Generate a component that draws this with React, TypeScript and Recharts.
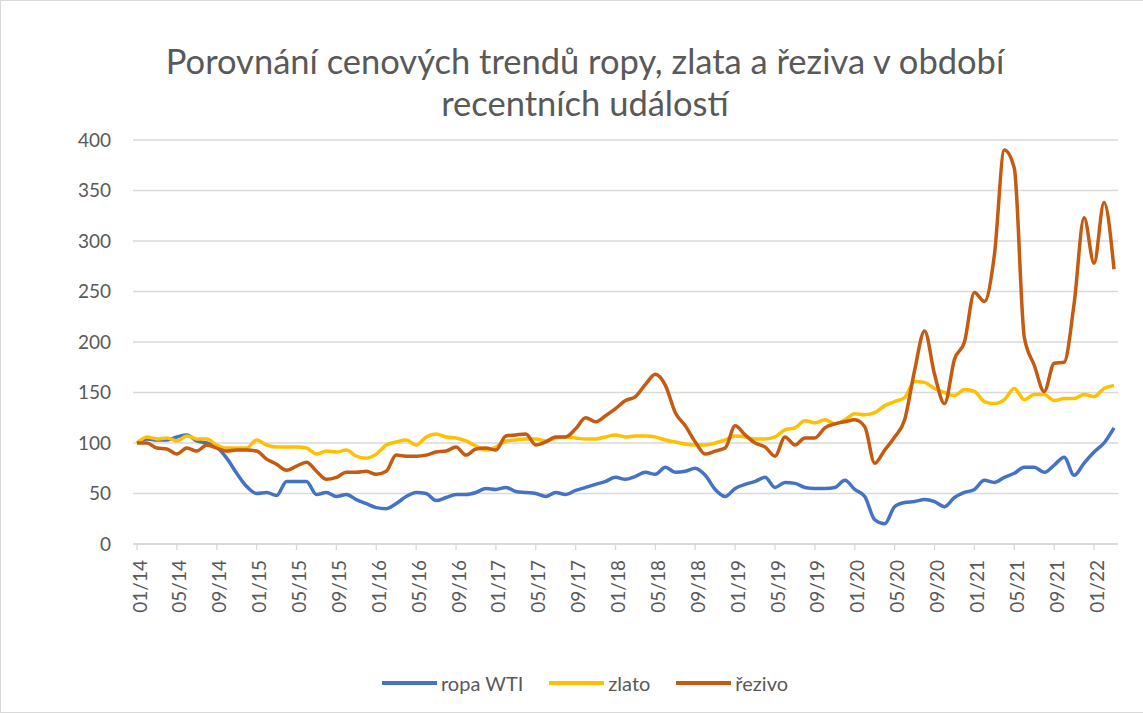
import React from "react"
import { LineChart, Line, XAxis, YAxis, CartesianGrid } from "recharts"

// měsíce 01/14 .. 03/22
const years = ["14", "15", "16", "17", "18", "19", "20", "21", "22"]
const monthNums = ["01", "02", "03", "04", "05", "06", "07", "08", "09", "10", "11", "12"]
const months = years.flatMap((y) => monthNums.map((m) => `${m}/${y}`)).slice(0, 99)

const yTicks = [0, 50, 100, 150, 200, 250, 300, 350, 400]

const ropa = [
  100, 104, 103, 103, 106, 108, 102, 100, 96, 85, 70, 57, 50, 51, 48, 62, 62, 62, 49, 51,
  47, 49, 44, 40, 36, 35, 40, 47, 51, 50, 43, 46, 49, 49, 51, 55, 54, 56, 52, 51,
  50, 47, 51, 49, 53, 56, 59, 62, 66, 64, 67, 71, 69, 76, 71, 72, 75, 68, 54, 47,
  55, 59, 62, 66, 56, 61, 60, 56, 55, 55, 56, 63, 54, 47, 24, 20, 37, 41, 42, 44,
  42, 37, 46, 51, 54, 63, 61, 66, 70, 76, 76, 71, 78, 86, 68, 80, 91, 100, 115,
]

const zlato = [
  100, 106, 104, 105, 102, 107, 104, 104, 98, 95, 95, 95, 103, 98, 96, 96, 96, 95, 89, 92,
  91, 93, 87, 85, 89, 98, 101, 103, 98, 106, 109, 106, 105, 102, 97, 93, 96, 102, 103, 104,
  104, 102, 105, 106, 105, 104, 104, 106, 108, 106, 107, 107, 106, 103, 101, 99, 98, 98, 100, 103,
  107, 106, 104, 104, 106, 113, 115, 122, 120, 123, 119, 123, 129, 128, 130, 137, 141, 145, 161, 160,
  154, 150, 147, 153, 151, 141, 139, 143, 154, 143, 148, 148, 142, 144, 144, 148, 146, 154, 157,
]

const rezivo = [
  100, 100, 95, 94, 89, 95, 92, 98, 95, 92, 93, 93, 92, 84, 79, 73, 77, 81, 72, 64,
  66, 71, 71, 72, 69, 72, 88, 87, 87, 88, 91, 92, 96, 88, 94, 95, 93, 107, 108, 109,
  98, 101, 106, 106, 114, 125, 121, 127, 134, 142, 146, 158, 168, 157, 130, 117, 101, 89, 92, 95,
  117, 108, 100, 96, 87, 106, 98, 105, 105, 115, 119, 121, 123, 116, 80, 93, 106, 123, 172, 211,
  168, 139, 183, 200, 249, 240, 286, 390, 372, 205, 177, 151, 179, 180, 238, 323, 278, 338, 272,
]

const series = [
  { key: "ropa", name: "ropa WTI", color: "#4472C4" },
  { key: "zlato", name: "zlato", color: "#FFC000" },
  { key: "rezivo", name: "řezivo", color: "#C55A11" },
]

const data = months.map((m, i) => ({ month: m, ropa: ropa[i], zlato: zlato[i], rezivo: rezivo[i] }))

const FONT = "Lato, 'Open Sans', sans-serif"
const TXT = "#595959"

const XTick = (props: any) => {
  const { x, y, payload } = props
  return (
    <text
      x={x + 2}
      y={y}
      transform={`rotate(-90 ${x + 2} ${y})`}
      textAnchor="end"
      dominantBaseline="central"
      fill={TXT}
      fontSize={19}
      fontFamily={FONT}
    >
      {payload.value}
    </text>
  )
}

export default function App() {
  return (
    <div
      style={{
        position: "absolute",
        left: 0,
        top: 0,
        width: 1143,
        height: 713,
        background: "#fff",
        fontFamily: FONT,
        boxSizing: "border-box",
        borderLeft: "1px solid #D9D9D9",
        borderTop: "1px solid #D9D9D9",
        borderBottom: "1px solid #D9D9D9",
        overflow: "hidden",
      }}
    >
      <div
        style={{
          position: "absolute",
          left: 0,
          top: 39,
          width: 1168,
          textAlign: "center",
          fontSize: 34.5,
          fontWeight: 400,
          lineHeight: "42px",
          color: TXT,
        }}
      >
        Porovnání cenových trendů ropy, zlata a řeziva v období
        <br />
        recentních událostí
      </div>
      <div style={{ position: "absolute", left: -1, top: -1 }}>
        <LineChart
          width={1143}
          height={713}
          data={data}
          margin={{ top: 140, right: 25, left: 73, bottom: 89 }}
        >
          <CartesianGrid vertical={false} stroke="#D9D9D9" strokeWidth={1.3} />
          <XAxis
            dataKey="month"
            interval={3}
            height={80}
            padding={{ left: 4, right: 4 }}
            axisLine={{ stroke: "#D9D9D9", strokeWidth: 1.5 }}
            tickLine={{ stroke: "#D9D9D9", strokeWidth: 1.3 }}
            tickSize={6}
            tickMargin={10}
            tick={<XTick />}
          />
          <YAxis
            domain={[0, 400]}
            ticks={yTicks}
            width={60}
            axisLine={false}
            tickLine={false}
            tickSize={0}
            tickMargin={22}
            tick={{ fill: TXT, fontSize: 19, fontFamily: FONT }}
          />
          {series.map((s) => (
            <Line
              key={s.key}
              type="monotone"
              dataKey={s.key}
              name={s.name}
              stroke={s.color}
              strokeWidth={3.5}
              dot={false}
              isAnimationActive={false}
            />
          ))}
        </LineChart>
      </div>
      <div
        style={{
          position: "absolute",
          left: 0,
          top: 670,
          width: 1168,
          display: "flex",
          justifyContent: "center",
          gap: 26,
          fontSize: 20,
          color: TXT,
        }}
      >
        {series.map((s) => (
          <div key={s.key} style={{ display: "flex", alignItems: "center" }}>
            <span
              style={{ display: "inline-block", width: 55, height: 4, background: s.color, marginRight: 4 }}
            />
            <span>{s.name}</span>
          </div>
        ))}
      </div>
    </div>
  )
}
